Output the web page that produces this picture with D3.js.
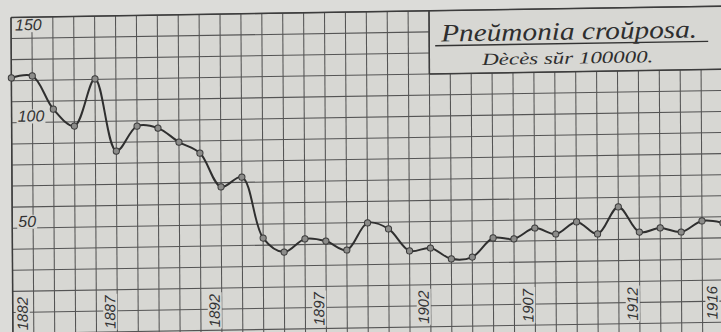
<!DOCTYPE html>
<html>
<head>
<meta charset="utf-8">
<script src="https://cdn.jsdelivr.net/npm/d3@7"></script>
<style>
  html, body { margin: 0; padding: 0; background: #dcdcd9; }
  svg { display: block; }
</style>
</head>
<body>
<svg id="chart" width="721" height="332"></svg>
<script>
// Croupous pneumonia, deaths per 100 000 inhabitants, 1882–1916
const years = [1882, 1883, 1884, 1885, 1886, 1887, 1888, 1889, 1890, 1891,
               1892, 1893, 1894, 1895, 1896, 1897, 1898, 1899, 1900, 1901,
               1902, 1903, 1904, 1905, 1906, 1907, 1908, 1909, 1910, 1911,
               1912, 1913, 1914, 1915, 1916];
const deaths = [121.3, 122.1, 106.2, 98.0, 120.2, 85.8, 97.5, 96.4, 89.6, 84.2,
                68.0, 72.5, 43.4, 36.6, 42.7, 41.5, 37.1, 49.8, 46.8, 36.2,
                37.4, 32.1, 32.8, 41.7, 41.1, 46.1, 43.1, 48.7, 42.8, 55.5,
                43.4, 45.2, 43.1, 48.2, 47.1];
const yTickValues = [150, 100, 50];
const xTickYears = [1882, 1887, 1892, 1897, 1902, 1907, 1912, 1916];
const titleText = "Pneŭmonia croŭposa.";
const subtitleText = "Dècès sŭr 100000.";

const W = 721, H = 332;
const plotW = 710.6, plotH = 316;
const paper = "#d7d7d3";
const ink = "#545454";
const boxYear = 1902, boxValue = 120;

const svg = d3.select("#chart");
svg.append("rect").attr("width", W).attr("height", H).attr("fill", "#dcdcd9");

// the ruled sheet sits slightly askew
const g = svg.append("g").attr("transform", "matrix(1,-0.016,0.006,1,11,17.5)");
g.append("rect").attr("x", 0).attr("y", 0)
  .attr("width", plotW + 30).attr("height", plotH + 20).attr("fill", paper);

const x = d3.scaleLinear().domain([years[0], years[years.length - 1]]).range([0, plotW]);
const y = d3.scaleLinear().domain([0, 150]).range([plotH, 0]);

// ruling: one column per year, one row per 10 deaths
const grid = g.append("g").attr("stroke", ink).attr("stroke-width", 1.05).attr("fill", "none");
grid.selectAll("line.v").data(years).join("line")
  .attr("class", "v")
  .attr("x1", d => x(d)).attr("x2", d => x(d))
  .attr("y1", d => d > boxYear ? y(boxValue) : y(150))
  .attr("y2", y(0) + 10);
grid.selectAll("line.h").data(d3.range(0, 151, 10)).join("line")
  .attr("class", "h")
  .attr("x1", 0)
  .attr("x2", d => (d > boxValue && d < 150) ? x(boxYear) : plotW + 20)
  .attr("y1", d => y(d)).attr("y2", d => y(d));

// heavier frame: top, left, and the title panel's edges
const frame = g.append("g").attr("stroke", "#3c3c3c").attr("stroke-width", 1.5);
frame.append("line").attr("x1", 0).attr("x2", plotW + 20).attr("y1", y(150)).attr("y2", y(150));
frame.append("line").attr("x1", x(years[0])).attr("x2", x(years[0])).attr("y1", y(150)).attr("y2", y(0) + 10);
frame.append("line").attr("x1", x(boxYear)).attr("x2", x(boxYear)).attr("y1", y(150)).attr("y2", y(boxValue));
frame.append("line").attr("x1", x(boxYear)).attr("x2", plotW + 20).attr("y1", y(boxValue)).attr("y2", y(boxValue));

// label helper: paper-coloured patch behind each text
function labelWithPatch(parent, build) {
  const grp = parent.append("g");
  const t = build(grp);
  const bb = t.node().getBBox();
  grp.insert("rect", "text")
    .attr("x", bb.x - 1).attr("y", bb.y + 2)
    .attr("width", bb.width + 2).attr("height", bb.height - 3)
    .attr("fill", paper)
    .attr("transform", t.attr("transform"));
  return grp;
}

const tickFont = "'Liberation Sans', 'DejaVu Sans', sans-serif";

// value labels on the left
yTickValues.forEach(v => {
  labelWithPatch(g, grp => grp.append("text")
    .attr("x", v === 150 ? 4 : 6)
    .attr("y", v === 150 ? y(v) + 13 : y(v) - 1)
    .attr("font-family", tickFont).attr("font-style", "italic")
    .attr("font-size", 16).attr("fill", "#333")
    .text(v));
});

// year labels, written upward along the bottom
xTickYears.forEach((yr, i) => {
  const last = i === xTickYears.length - 1;
  const px = i === 0 ? x(yr) + 15 : (last ? x(yr) - 6 : x(yr) - 2);
  labelWithPatch(g, grp => grp.append("text")
    .attr("transform", `translate(${px},${plotH - 3}) rotate(-90)`)
    .attr("font-family", tickFont).attr("font-style", "italic")
    .attr("font-size", 15).attr("fill", "#333")
    .text(yr));
});

// the mortality curve
const line = d3.line()
  .x((d, i) => x(years[i]))
  .y(d => y(d))
  .curve(d3.curveCatmullRom.alpha(0.5));
g.append("path").datum(deaths)
  .attr("d", line)
  .attr("fill", "none").attr("stroke", "#2f2f2f").attr("stroke-width", 2)
  .attr("stroke-linejoin", "round");

g.append("g").selectAll("circle").data(deaths).join("circle")
  .attr("cx", (d, i) => x(years[i])).attr("cy", d => y(d))
  .attr("r", 3.1)
  .attr("fill", "#8c8c8a").attr("stroke", "#3a3a3a").attr("stroke-width", 1);

// title panel
const titleFont = "'Liberation Serif', 'DejaVu Serif', serif";
g.append("text")
  .attr("x", 430).attr("y", 31)
  .attr("textLength", 256).attr("lengthAdjust", "spacingAndGlyphs")
  .attr("font-family", titleFont).attr("font-style", "italic")
  .attr("font-size", 25).attr("fill", "#2e2e2e")
  .text(titleText);
g.append("line")
  .attr("x1", 424).attr("x2", 697).attr("y1", 35).attr("y2", 35)
  .attr("stroke", "#333").attr("stroke-width", 1.4);
g.append("text")
  .attr("x", 471).attr("y", 55)
  .attr("textLength", 171).attr("lengthAdjust", "spacingAndGlyphs")
  .attr("font-family", titleFont).attr("font-style", "italic")
  .attr("font-size", 17).attr("fill", "#2e2e2e")
  .text(subtitleText);
</script>
</body>
</html>
